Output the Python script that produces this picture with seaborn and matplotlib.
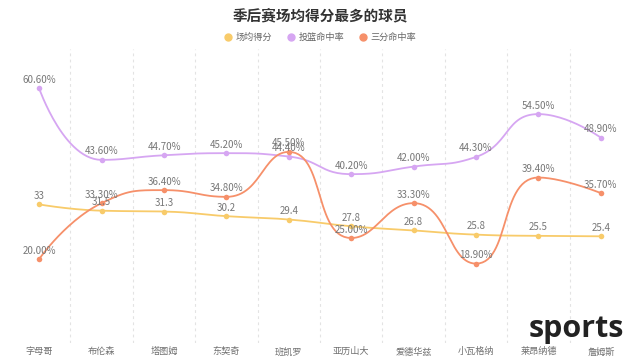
import numpy as np
import pandas as pd
import matplotlib
matplotlib.use("Agg")
import matplotlib.pyplot as plt
import seaborn as sns
from matplotlib.lines import Line2D

players = ["字母哥", "布伦森", "塔图姆", "东契奇", "班凯罗", "亚历山大", "爱德华兹", "小瓦格纳", "莱昂纳德", "詹姆斯"]
points = [33, 31.5, 31.3, 30.2, 29.4, 27.8, 26.8, 25.8, 25.5, 25.4]
fg_pct = [60.60, 43.60, 44.70, 45.20, 44.40, 40.20, 42.00, 44.30, 54.50, 48.90]
three_pct = [20.00, 33.30, 36.40, 34.80, 45.50, 25.00, 33.30, 18.90, 39.40, 35.70]
series_names = ["场均得分", "投篮命中率", "三分命中率"]

colors = ["#F8CB6A", "#D6A6F2", "#F6906A"]

sns.set_theme(style="white")
plt.rcParams['font.family'] = ['Noto Sans CJK SC', 'DejaVu Sans']

fig = plt.figure(figsize=(6.4, 3.63), dpi=100)
ax_top, ax_bot = 49, 343
ax = fig.add_axes([8/640, 1 - ax_bot/363, 624/640, (ax_bot - ax_top)/363])

XS, YS = 62.4, 4.2  # approx pixels per data unit, for curve shape only


def smooth_path(xs, ys, smooth=0.5, n=30):
    """Constrained cubic smoothing through the data points (pixel-space shape)."""
    P = np.column_stack([np.asarray(xs, float) * XS, np.asarray(ys, float) * YS])
    m = len(P)
    cps = []
    for i in range(m):
        p = P[i]
        if i == 0 or i == m - 1:
            cps.append((p.copy(), p.copy()))
            continue
        prev, nxt = P[i - 1], P[i + 1]
        v = nxt - prev
        l0 = np.hypot(*(p - prev)); l1 = np.hypot(*(nxt - p))
        r = l1 / (l0 + l1)
        c_after = p + v * smooth * r
        c_after = np.minimum(c_after, np.maximum(nxt, p))
        c_after = np.maximum(c_after, np.minimum(nxt, p))
        vv = c_after - p
        c_before = p - vv * l0 / l1
        c_before = np.minimum(c_before, np.maximum(prev, p))
        c_before = np.maximum(c_before, np.minimum(prev, p))
        vv = p - c_before
        c_after = p + vv * l1 / l0
        cps.append((c_before, c_after))
    out = []
    s = np.linspace(0, 1, n)[:, None]
    for i in range(m - 1):
        a, b = P[i], P[i + 1]
        c1, c2 = cps[i][1], cps[i + 1][0]
        seg = (1-s)**3*a + 3*(1-s)**2*s*c1 + 3*(1-s)*s**2*c2 + s**3*b
        out.append(seg[:-1])
    out.append(P[-1:])
    out = np.vstack(out)
    return out[:, 0] / XS, out[:, 1] / YS


x = np.arange(len(players))
all_series = [points, fg_pct, three_pct]
for name, vals, col in zip(series_names, all_series, colors):
    sx, sy = smooth_path(x, vals)
    ax.plot(sx, sy, color=col, lw=1.3, zorder=2)
    df = pd.DataFrame({"x": x, "y": vals})
    sns.scatterplot(data=df, x="x", y="y", ax=ax, color=col, s=16, edgecolor=col,
                    linewidth=0, zorder=3, legend=False)
    for xi, v in zip(x, vals):
        lab = f"{v:.2f}%" if name != "场均得分" else f"{v:g}"
        ax.annotate(lab, (xi, v), xytext=(0, 2.5), textcoords="offset points",
                    ha="center", va="bottom", fontsize=7, color="#777777", zorder=4)

ax.set_xlim(-0.5, len(players) - 0.5)
ax.set_ylim(0, 70)
for b in np.arange(0.5, len(players) - 0.5, 1):
    ax.axvline(b, color="#E3E3E3", lw=0.8, ls=(0, (2.5, 3)), zorder=1)
ax.set_xticks(x)
ax.set_xticklabels(players, fontsize=6.6, color="#707070")
ax.tick_params(axis="x", length=0, pad=3)
ax.set_yticks([])
ax.set_xlabel(""); ax.set_ylabel("")
for sp in ax.spines.values():
    sp.set_visible(False)

fig.text(0.5, 1 - 15/363, "季后赛场均得分最多的球员", ha="center", va="center",
         fontsize=10.5, fontweight="bold", color="#333333")

handles = [Line2D([], [], marker="o", ls="none", color=c, markersize=5) for c in colors]
fig.legend(handles, series_names, loc="center", bbox_to_anchor=(0.5, 1 - 37.5/363),
           ncol=3, frameon=False, fontsize=6.6, labelcolor="#666666",
           handletextpad=0.3, columnspacing=1.6, handlelength=1.0)

fig.text(624/640, 1 - 337/363, "sports", ha="right", va="baseline", fontsize=22,
         fontweight="bold", color="#222222", family=["Open Sans", "DejaVu Sans"], zorder=10)

fig.savefig("out.png", dpi=100, facecolor="white")
